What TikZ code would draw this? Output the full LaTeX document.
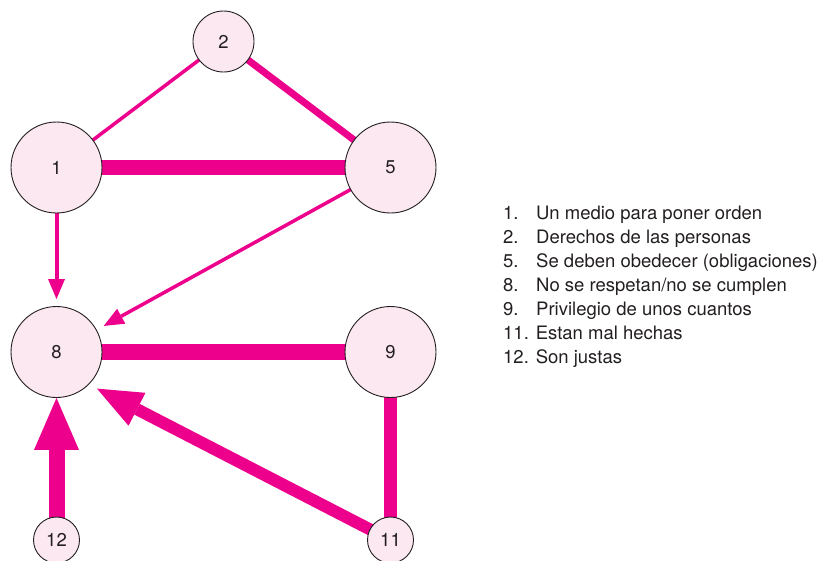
\documentclass[tikz,border=0pt]{standalone}
\usepackage{fontspec}
\setmainfont{TeX Gyre Heros}
\usetikzlibrary{arrows.meta,backgrounds}
\definecolor{mag}{HTML}{EC008C}
\definecolor{nodefill}{HTML}{FCE8F0}
\definecolor{ink}{HTML}{231F20}
\begin{document}
\begin{tikzpicture}[x=1pt,y=-1pt,
  concept/.style={circle,draw=ink,line width=0.9pt,fill=nodefill,inner sep=0pt,
    font=\fontsize{18.5}{20}\selectfont,text=ink},
  big/.style={concept,minimum size=91pt},
  mid/.style={concept,minimum size=61pt},
  small/.style={concept,minimum size=46pt},
  link/.style={draw=mag,line cap=butt},
  legend/.style={anchor=base west,inner sep=0pt,font=\fontsize{18.5}{20}\selectfont,text=ink}]
\useasboundingbox (0,0) rectangle (822,560);

% concept nodes
\node[mid] (n2) at (223.5,41.5) {2};
\node[big] (n1) at (56.5,167.5) {1};
\node[big] (n5) at (390.5,167.5) {5};
\node[big] (n8) at (56.5,352) {8};
\node[big] (n9) at (390.5,352) {9};
\node[small] (n12) at (56.5,540) {12};
\node[small] (n11) at (390.5,540) {11};

% connectors, drawn beneath the circles
\begin{scope}[on background layer]
  \draw[link,line width=3.5pt] (n1.center) -- (n2.center);
  \draw[link,line width=7pt] (n2.center) -- (n5.center);
  \draw[link,line width=15pt] (n1.center) -- (n5.center);
  \draw[link,line width=16pt] (n8.center) -- (n9.center);
  \draw[link,line width=13pt] (n9.center) -- (n11.center);
  \draw[link,line width=4pt,shorten >=7pt,
    -{Triangle[width=17pt,length=20pt,line width=0pt]}] (n1.center) -- (n8);
  \draw[link,line width=3.5pt,shorten >=8pt,
    -{Triangle[width=17pt,length=20pt,line width=0pt]}] (n5.center) -- (n8);
  \draw[link,line width=12pt,shorten >=9pt,
    -{Triangle[width=37pt,length=45pt,line width=0pt]}] (n11.center) -- (n8.-45);
  \draw[link,line width=16pt,
    -{Triangle[width=45pt,length=52pt,line width=0pt]}] (n12.center) -- (n8);
\end{scope}

% legend
\foreach \y/\num/\txt [count=\i] in {
  219/1./Un medio para poner orden,
  243/2./Derechos de las personas,
  267/5./Se deben obedecer (obligaciones),
  291/8./No se respetan\slash no se cumplen,
  315/9./Privilegio de unos cuantos}{
  \node[legend] (k\i) at (503,\y) {\num};
  \node[legend] (t\i) at (536,\y) {\txt};
}
\node[legend] (k6) at (503,339) {11. Estan mal hechas};
\node[legend] (k7) at (503,363) {12. Son justas};
\end{tikzpicture}
\end{document}
